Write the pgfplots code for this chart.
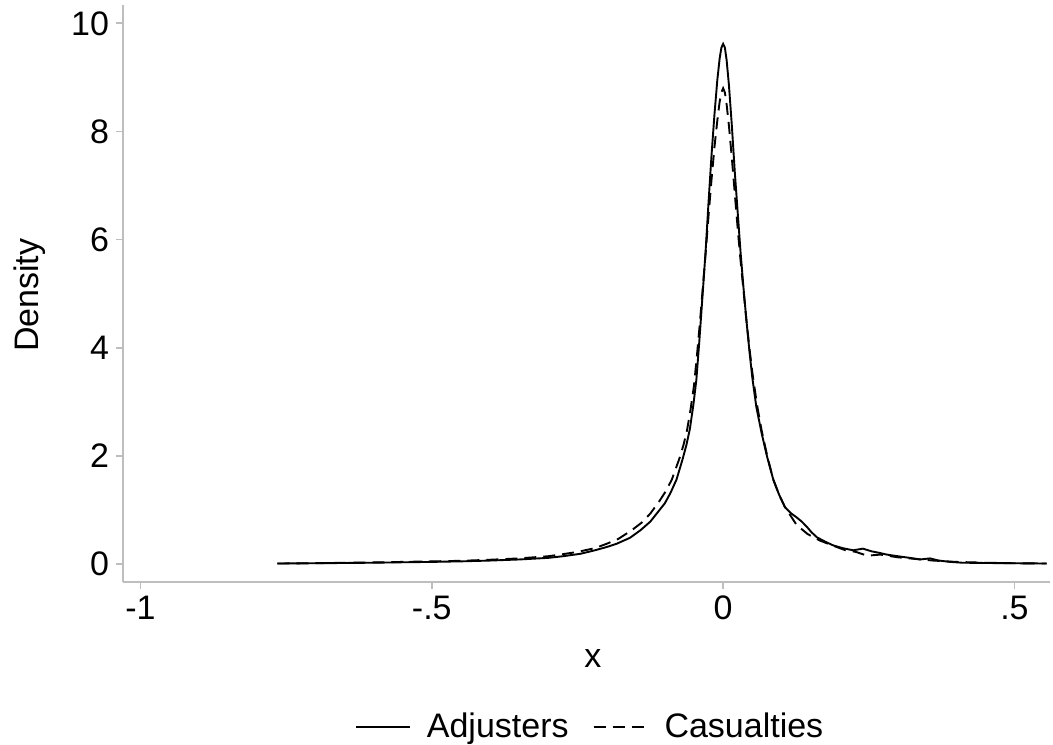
\documentclass[border=0pt]{standalone}
\usepackage{pgfplots}
\pgfplotsset{compat=1.18}
\usepackage{fontspec}
\setmainfont{Liberation Sans}
\definecolor{axgray}{RGB}{190,190,190}
\begin{document}
\begin{tikzpicture}
\useasboundingbox (-61.5pt,-81pt) rectangle (465pt,291pt);
\begin{axis}[
  scale only axis,
  width=463.5pt, height=288.5pt,
  xmin=-1.03, xmax=0.561,
  ymin=-0.337, ymax=10.34,
  axis x line=bottom, axis y line=left,
  axis line style={axgray, line width=0.9pt, -},
  every tick/.style={axgray, line width=0.9pt},
  tick align=outside,
  major tick length=3.5pt,
  xtick={-1,-0.5,0,0.5},
  xticklabels={-1,-.5,0,.5},
  ytick={0,2,4,6,8,10},
  yticklabels={0,2,4,6,8,10},
  font=\fontsize{17}{20}\selectfont,
  tick label style={font=\fontsize{17}{20}\selectfont, black},
  xlabel={x},
  ylabel={Density},
  every axis x label/.style={at={(axis description cs:0.507,-0.132)},anchor=center},
  every axis y label/.style={at={(axis description cs:-0.1003,0.497)},rotate=90,anchor=center},
  legend columns=2,
  legend style={at={(axis description cs:0.505,-0.251)}, anchor=center, draw=none,
    font=\fontsize{17}{20}\selectfont,
    /tikz/every odd column/.append style={column sep=6pt},
    /tikz/every even column/.append style={column sep=10pt}},
  legend cell align=left,
  legend image code/.code={\draw[#1] (0pt,0pt) -- (27pt,0pt);},
]
\addplot[black, line width=0.95pt] table {
x y
-0.765 0.005
-0.70 0.010
-0.65 0.015
-0.60 0.020
-0.55 0.028
-0.50 0.035
-0.45 0.045
-0.40 0.060
-0.35 0.080
-0.30 0.110
-0.275 0.140
-0.245 0.185
-0.22 0.250
-0.20 0.310
-0.183 0.370
-0.16 0.480
-0.142 0.620
-0.125 0.780
-0.114 0.930
-0.10 1.120
-0.09 1.320
-0.08 1.560
-0.07 1.920
-0.063 2.200
-0.057 2.500
-0.051 2.950
-0.046 3.400
-0.041 4.100
-0.0355 4.940
-0.030 5.800
-0.025 6.700
-0.020 7.550
-0.015 8.300
-0.010 8.950
-0.006 9.350
-0.003 9.550
0 9.620
0.003 9.550
0.006 9.320
0.010 8.850
0.015 8.100
0.020 7.250
0.025 6.500
0.030 5.750
0.035 5.100
0.040 4.500
0.045 3.950
0.050 3.450
0.057 2.900
0.066 2.420
0.075 2.000
0.086 1.560
0.096 1.280
0.106 1.050
0.117 0.930
0.126 0.860
0.135 0.780
0.144 0.680
0.152 0.580
0.161 0.490
0.175 0.410
0.189 0.340
0.205 0.290
0.223 0.250
0.24 0.280
0.255 0.230
0.269 0.200
0.281 0.170
0.30 0.140
0.32 0.110
0.338 0.080
0.355 0.100
0.37 0.060
0.39 0.035
0.41 0.020
0.45 0.015
0.50 0.010
0.555 0.005
};
\addlegendentry{Adjusters}
\addplot[black, line width=0.95pt, dash pattern=on 6pt off 3.5pt] table {
x y
-0.765 0.005
-0.70 0.012
-0.65 0.018
-0.60 0.025
-0.55 0.035
-0.50 0.045
-0.45 0.055
-0.40 0.075
-0.35 0.100
-0.30 0.140
-0.28 0.170
-0.25 0.220
-0.22 0.290
-0.20 0.370
-0.18 0.460
-0.157 0.620
-0.14 0.760
-0.125 0.930
-0.11 1.150
-0.098 1.350
-0.088 1.560
-0.075 1.950
-0.068 2.200
-0.062 2.470
-0.056 2.850
-0.050 3.300
-0.045 3.850
-0.040 4.450
-0.035 5.100
-0.030 5.750
-0.025 6.450
-0.020 7.100
-0.015 7.700
-0.010 8.200
-0.006 8.550
-0.003 8.720
0 8.800
0.003 8.720
0.006 8.500
0.010 8.100
0.015 7.500
0.020 6.850
0.025 6.200
0.030 5.600
0.035 5.050
0.040 4.500
0.045 4.000
0.050 3.550
0.058 2.950
0.066 2.470
0.076 1.980
0.086 1.560
0.096 1.280
0.106 1.050
0.126 0.720
0.145 0.550
0.166 0.430
0.19 0.330
0.21 0.250
0.228 0.220
0.247 0.150
0.27 0.170
0.30 0.120
0.33 0.090
0.36 0.060
0.40 0.035
0.45 0.020
0.50 0.010
0.555 0.005
};
\addlegendentry{Casualties}
\end{axis}
\end{tikzpicture}
\end{document}
